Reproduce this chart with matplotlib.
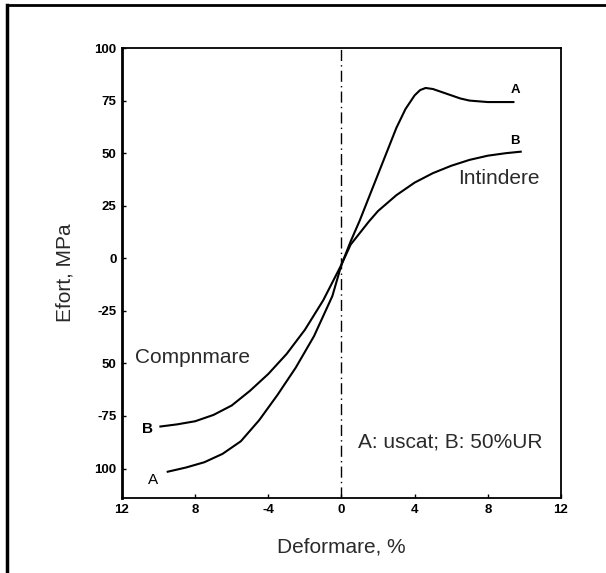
import matplotlib
matplotlib.use('Agg')
import matplotlib.pyplot as plt
from matplotlib.lines import Line2D

plt.rcParams['font.family'] = ['Liberation Sans', 'DejaVu Sans']

# curve A (uscat)
a_x = [-9.5, -8.5, -7.5, -6.5, -5.5, -4.5, -3.5, -2.5, -1.5, -0.5, 0.0, 0.5, 1.0,
       1.5, 2.0, 2.5, 3.0, 3.5, 4.0, 4.3, 4.6, 5.0, 5.5, 6.0, 6.5, 7.0, 8.0, 9.4]
a_y = [-101.5, -99.5, -97, -93, -87, -77, -65, -52, -37, -18, -3, 8, 18,
       29, 40, 51, 62, 71, 77.5, 80, 81, 80.5, 79, 77.5, 76, 75, 74.3, 74.3]

# curve B (50%UR)
b_x = [-9.9, -9, -8, -7, -6, -5, -4, -3, -2, -1, 0, 0.5, 1, 1.5, 2, 3, 4, 5, 6, 7, 8, 9, 9.8]
b_y = [-80, -79, -77.5, -74.5, -70, -63, -55, -45.5, -34, -20, -3, 6.5, 12, 17.5,
       22.5, 30, 36, 40.5, 44, 46.8, 48.8, 50, 50.7]

x_ticks = [-12, -8, -4, 0, 4, 8, 12]
x_labels = ['12', '8', '-4', '0', '4', '8', '12']
y_ticks = [100, 75, 50, 25, 0, -25, -50, -75, -100]
y_labels = ['100', '75', '50', '25', '0', '-25', '50', '-75', '100']

fig = plt.figure(figsize=(6.06, 5.73), dpi=100)
ax = fig.add_axes([0.2013, 0.1309, 0.7244, 0.7853])

ax.plot(a_x, a_y, color='black', lw=1.5, solid_joinstyle='round')
ax.plot(b_x, b_y, color='black', lw=1.5, solid_joinstyle='round')
ax.axvline(0, color='black', lw=1.0, linestyle=(0, (8, 3, 1, 3)))

ax.set_xlim(-12, 12)
ax.set_ylim(-114, 100)
ax.set_xticks(x_ticks)
ax.set_xticklabels(x_labels)
ax.set_yticks(y_ticks)
ax.set_yticklabels(y_labels)
ax.tick_params(direction='in', length=3, width=1, labelsize=9.5, pad=4)
for lab in ax.get_xticklabels() + ax.get_yticklabels():
    lab.set_fontweight('bold')

for s in ['top', 'right', 'bottom']:
    ax.spines[s].set_linewidth(1.3)
ax.spines['left'].set_linewidth(2.0)

ax.set_xlabel('Deformare, %', fontsize=15, labelpad=16, color='#2a2a2a')
ax.set_ylabel('Efort, MPa', fontsize=15, labelpad=14, color='#2a2a2a')

# curve labels
ax.text(9.5, 80, 'A', fontsize=9.5, fontweight='bold', ha='center', va='center')
ax.text(9.5, 56, 'B', fontsize=9.5, fontweight='bold', ha='center', va='center')
ax.text(8.6, 38, 'Intindere', fontsize=15, ha='center', va='center', color='#2a2a2a')
ax.text(-11.3, -47, 'Compnmare', fontsize=15, ha='left', va='center', color='#2a2a2a')
ax.text(-10.6, -81, 'B', fontsize=11, fontweight='bold', ha='center', va='center')
ax.text(-10.3, -105.5, 'A', fontsize=11, ha='center', va='center')
ax.text(0.9, -87.5, 'A: uscat; B: 50%UR', fontsize=15, ha='left', va='center', color='#2a2a2a')

# outer frame (top and left edges only)
fig.add_artist(Line2D([0.0116, 1.0], [0.9913, 0.9913], color='black', lw=2.0))
fig.add_artist(Line2D([0.0116, 0.0116], [0.0, 0.9913], color='black', lw=2.5))

fig.savefig('out.png', dpi=100)
